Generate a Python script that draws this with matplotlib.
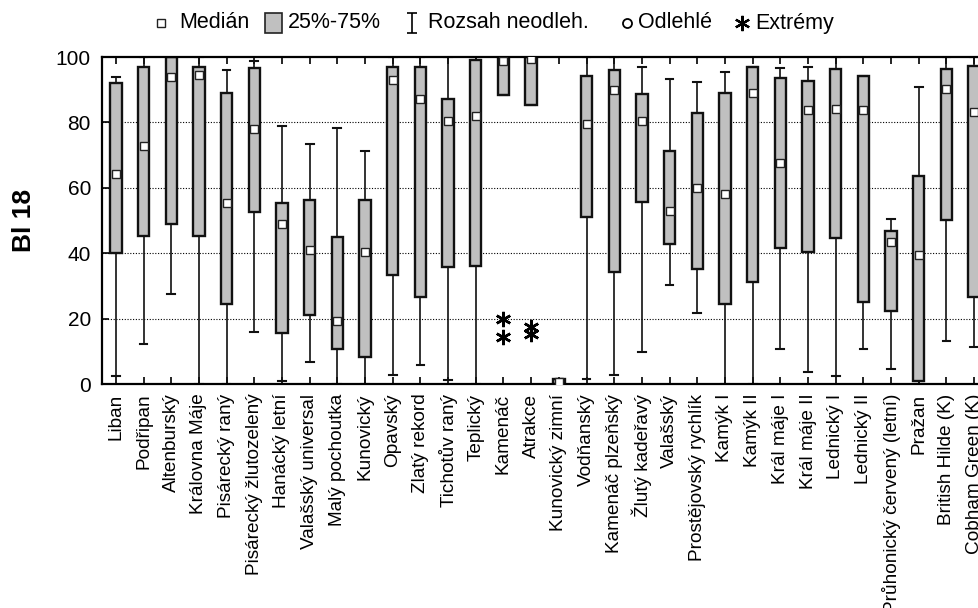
import numpy as np
import matplotlib
matplotlib.use('Agg')
import matplotlib.pyplot as plt
from matplotlib.path import Path
from matplotlib.lines import Line2D
from matplotlib.patches import Rectangle

plt.rcParams['font.family'] = ['Liberation Sans', 'DejaVu Sans']

odrudy = ['Liban', 'Podřipan', 'Altenburský', 'Královna Máje', 'Pisárecký raný',
          'Pisárecký žlutozelený', 'Hanácký letní', 'Valašský universal', 'Malý pochoutka',
          'Kunovický', 'Opavský', 'Zlatý rekord', 'Tichotův raný', 'Teplický', 'Kamenáč',
          'Atrakce', 'Kunovický zimní', 'Vodňanský', 'Kamenáč plzeňský', 'Žlutý kadeřavý',
          'Valašský', 'Prostějovský rychlík', 'Kamýk I', 'Kamýk II', 'Král máje I',
          'Král máje II', 'Lednický I', 'Lednický II', 'Průhonický červený (letní)',
          'Pražan', 'British Hilde (K)', 'Cobham Green (K)']

median = [64.3, 72.7, 93.9, 94.5, 55.4, 77.9, 48.9, 41.1, 19.4, 40.5,
          93.0, 87.2, 80.4, 82.1, 98.8, 99.5, 0.5, 79.4, 90.0, 80.3,
          52.8, 60.0, 58.1, 89.0, 67.7, 83.7, 84.0, 83.7, 43.4, 39.5, 90.2, 83.3]
q25 = [40.0, 45.3, 49.0, 45.4, 24.5, 52.6, 15.5, 21.0, 10.6, 8.2,
       33.2, 26.5, 35.7, 36.2, 88.5, 85.4, 0.0, 51.2, 34.2, 55.6,
       42.9, 35.1, 24.5, 31.1, 41.5, 40.3, 44.8, 25.1, 22.4, 0.9, 50.3, 26.7]
q75 = [92.0, 96.8, 100.0, 97.1, 88.9, 96.6, 55.5, 56.3, 44.9, 56.3,
       96.9, 96.9, 87.2, 99.0, 100.0, 100.0, 1.5, 94.1, 95.9, 88.8,
       71.2, 82.8, 89.1, 96.8, 93.6, 92.8, 96.4, 94.3, 46.9, 63.5, 96.3, 97.4]
wmin = [2.4, 12.1, 27.6, 0.0, 0.0, 15.9, 1.0, 6.8, 0.0, 0.0,
        2.9, 5.7, 1.2, 0.0, 88.5, 85.4, 0.0, 1.6, 2.9, 9.9,
        30.3, 21.8, 0.0, 0.0, 10.6, 3.8, 2.4, 10.8, 4.6, 0.0, 13.1, 11.2]
wmax = [93.8, 100.0, 100.0, 100.0, 96.0, 98.8, 78.8, 73.5, 78.3, 71.2,
        100.0, 100.0, 100.0, 100.0, 100.0, 100.0, 1.5, 100.0, 100.0, 96.8,
        93.2, 92.4, 95.5, 97.1, 96.7, 96.8, 100.0, 94.3, 50.5, 90.8, 100.0, 100.0]
# extrémy (Kamenáč, Atrakce)
extremy = {14: [19.8, 14.4], 15: [17.3, 15.2]}

stats = []
for i, name in enumerate(odrudy):
    stats.append(dict(label=name, med=median[i], q1=q25[i], q3=q75[i],
                      whislo=wmin[i], whishi=wmax[i], fliers=extremy.get(i, [])))

pos = np.arange(len(odrudy))

fig = plt.figure(figsize=(9.79, 6.08), dpi=100)
ax = fig.add_axes([0.1042, 0.3684, 0.905, 0.5378])

ax.bxp(stats, positions=pos, widths=0.41, patch_artist=True, manage_ticks=False,
       capwidths=0.28,
       boxprops=dict(facecolor='#c0c0c0', edgecolor='#111111', linewidth=1.7),
       whiskerprops=dict(color='#111111', linewidth=1.2, linestyle='-'),
       capprops=dict(color='#111111', linewidth=1.5),
       medianprops=dict(visible=False),
       flierprops=dict(marker=(6, 2, 0), markersize=11, markeredgecolor='black',
                       markeredgewidth=1.8, linestyle='none'))
ax.plot(pos, median, linestyle='none', marker='s', markersize=6,
        markerfacecolor='white', markeredgecolor='#222222', markeredgewidth=1.0, zorder=5)

ax.set_xlim(-0.5, len(odrudy) - 0.5)
ax.set_ylim(0, 100)
ax.set_yticks([0, 20, 40, 60, 80, 100])
ax.set_xticks(pos)
ax.set_xticklabels(odrudy, rotation=90, fontsize=13.7)
ax.tick_params(axis='y', labelsize=15, pad=8)
ax.tick_params(axis='x', pad=7)
ax.tick_params(direction='in', length=5, width=1.2, top=True, right=True)
for s in ax.spines.values():
    s.set_linewidth(1.6)

for g in [20, 40, 60, 80]:
    ax.axhline(g, color='black', linewidth=0.8, linestyle=(0, (1, 1.5)), zorder=0.5)
ax.set_axisbelow(True)

ax.set_ylabel('Bl 18', fontsize=19, fontweight='bold')
ax.yaxis.set_label_coords(-0.074, 0.5)

# legenda nahoře
W, H = 979.0, 608.0
ly = 1 - 23 / H
ibeam = Path([(-0.5, 1), (0.5, 1), (0, 1), (0, -1), (-0.5, -1), (0.5, -1)],
             [Path.MOVETO, Path.LINETO, Path.MOVETO, Path.LINETO, Path.MOVETO, Path.LINETO])
symboly = [
    dict(x=161, marker='s', ms=6, mfc='white', mec='#222222', mew=1.0),
    dict(x=412, marker=ibeam, ms=14, mfc='none', mec='black', mew=1.2),
    dict(x=627, marker='o', ms=6.5, mfc='none', mec='black', mew=1.3),
    dict(x=742, marker=(6, 2, 0), ms=11, mfc='none', mec='black', mew=1.6),
]
for s in symboly:
    x = s.pop('x')
    fig.add_artist(Line2D([x / W], [ly], transform=fig.transFigure, linestyle='none', **s))
fig.add_artist(Rectangle(((273 - 8.5) / W, ly - 10 / H), 17 / W, 20 / H,
                         transform=fig.transFigure, facecolor='#c0c0c0',
                         edgecolor='#222222', linewidth=1.2))
popisky = [(179, 'Medián'), (288, '25%-75%'), (428, 'Rozsah neodleh.'),
           (638, 'Odlehlé'), (755, 'Extrémy')]
for x, t in popisky:
    fig.text(x / W, ly, t, fontsize=15.5, ha='left', va='center')

fig.savefig('out.png', dpi=100)
